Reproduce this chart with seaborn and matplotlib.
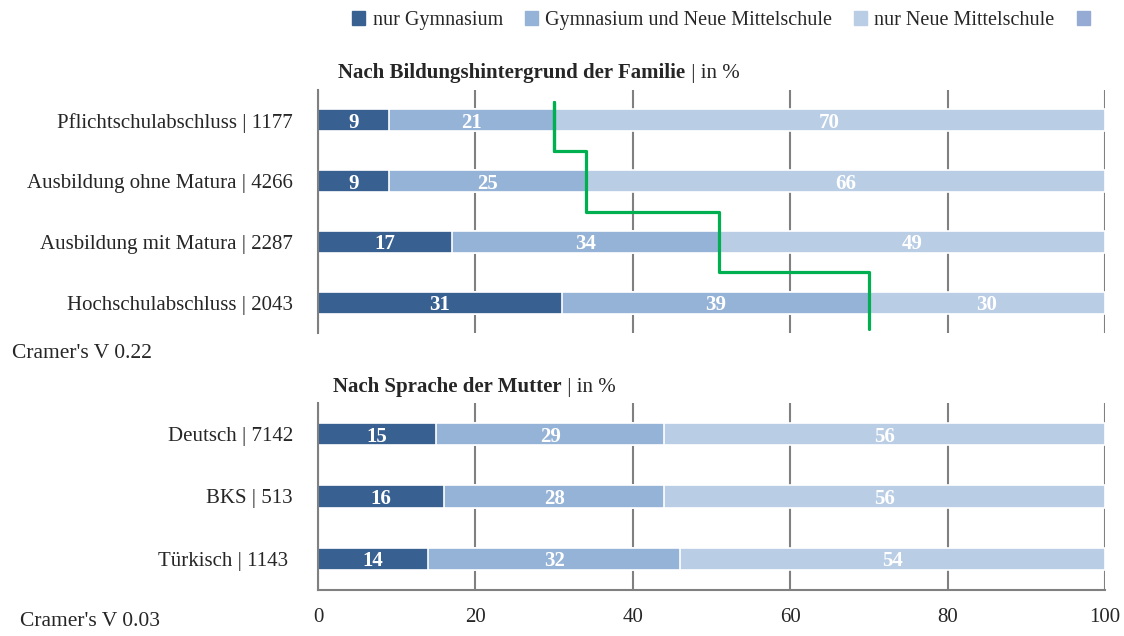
import numpy as np
import pandas as pd
from matplotlib import pyplot as plt
from matplotlib.patches import Patch
import seaborn as sns

series = ["nur Gymnasium", "Gymnasium und Neue Mittelschule", "nur Neue Mittelschule"]
colors = ["#386192", "#95b3d7", "#b9cde5"]
extra_color = "#95abd3"

bildung_labels = ["Pflichtschulabschluss | 1177", "Ausbildung ohne Matura | 4266",
                  "Ausbildung mit Matura | 2287", "Hochschulabschluss | 2043"]
bildung_gym = [9, 9, 17, 31]
bildung_both = [21, 25, 34, 39]
bildung_nms = [70, 66, 49, 30]

sprache_labels = ["Deutsch | 7142", "BKS | 513", "Türkisch | 1143 "]
sprache_gym = [15, 16, 14]
sprache_both = [29, 28, 32]
sprache_nms = [56, 56, 54]

cramer_bildung = "Cramer's V 0.22"
cramer_sprache = "Cramer's V 0.03"
xticks = [0, 20, 40, 60, 80, 100]

GRAY = "#808080"
FS = 15


def stacked_panel(ax, labels, gym, both, nms, title_bold, title_x):
    df = pd.DataFrame({"label": labels, "gym": gym, "both": both, "nms": nms})
    df["c1"] = df["gym"]
    df["c2"] = df["gym"] + df["both"]
    df["c3"] = df["c2"] + df["nms"]
    # stack by overdrawing cumulative totals
    for col, color in zip(["c3", "c2", "c1"], colors[::-1]):
        sns.barplot(data=df, x=col, y="label", orient="h", color=color, saturation=1,
                    width=0.36, edgecolor="white", linewidth=1.2, errorbar=None, ax=ax)
    for i, row in df.iterrows():
        starts = [0, row["c1"], row["c2"]]
        for s, v in zip(starts, [row["gym"], row["both"], row["nms"]]):
            ax.text(s + v / 2, i, str(v), ha="center", va="center_baseline", color="white",
                    fontsize=15, fontweight="bold")
    n = len(labels)
    ax.set_xlim(0, 100)
    ax.set_ylim(n - 0.5, -0.5)
    ax.set_xlabel("")
    ax.set_ylabel("")
    ax.set_axisbelow(True)
    ax.xaxis.grid(True, color=GRAY, linewidth=1.5)
    ax.yaxis.grid(False)
    ax.set_xticks(xticks)
    ax.set_yticks(np.arange(-0.5, n), minor=True)
    ax.tick_params(axis="y", which="major", length=0, pad=18, labelsize=FS)
    ax.tick_params(axis="y", which="minor", length=7, width=1.5, color=GRAY, direction="out")
    for side in ["top", "right"]:
        ax.spines[side].set_visible(False)
    ax.spines["left"].set_color(GRAY)
    ax.spines["left"].set_linewidth(1.5)
    t = ax.text(title_x, 1.03, title_bold, transform=ax.transAxes, fontsize=15,
                fontweight="bold", ha="left", va="bottom")
    ax.annotate(" | in %", xy=(1, 0), xycoords=t, ha="left", va="bottom", fontsize=15)
    return df


sns.set_style("white")
plt.rcParams["font.family"] = ["Liberation Serif", "DejaVu Serif"]

fig = plt.figure(figsize=(11.24, 6.36), dpi=100)
ax_top = fig.add_axes([318 / 1124, 1 - 333 / 636, 787 / 1124, 243 / 636])
ax_bot = fig.add_axes([318 / 1124, 1 - 590 / 636, 787 / 1124, 187 / 636])

df_top = stacked_panel(ax_top, bildung_labels, bildung_gym, bildung_both, bildung_nms,
                       "Nach Bildungshintergrund der Familie", 0.026)
ax_top.spines["bottom"].set_visible(False)
ax_top.tick_params(axis="x", length=0, labelbottom=False)

# green step line along the cumulative "Gymnasium" share
edges = df_top["c2"].tolist()
n = len(edges)
ys = [-0.3] + [i + 0.5 for i in range(n - 1)] + [n - 1 + 0.44]
xs = edges + [edges[-1]]
ax_top.step(xs, ys, where="pre", color="#00b050", linewidth=2.3, zorder=5)
ax_top.plot([edges[0], edges[0]], [ys[0], ys[1]], color="#00b050", linewidth=2.3, zorder=5)

stacked_panel(ax_bot, sprache_labels, sprache_gym, sprache_both, sprache_nms,
              "Nach Sprache der Mutter", 0.019)
ax_bot.spines["bottom"].set_color(GRAY)
ax_bot.spines["bottom"].set_linewidth(1.5)
ax_bot.tick_params(axis="x", length=6, width=1.5, color=GRAY, direction="inout",
                   labelsize=FS, pad=10)

fig.text(12 / 1124, 1 - 353 / 636, cramer_bildung, fontsize=15.5, va="center", ha="left")
fig.text(20 / 1124, 1 - 621 / 636, cramer_sprache, fontsize=15.5, va="center", ha="left")

handles = [Patch(color=c, label=s) for c, s in zip(colors, series)]
handles.append(Patch(color=extra_color, label=""))
fig.legend(handles=handles, loc="upper right", bbox_to_anchor=(1111 / 1124, 1.005), ncol=4,
           frameon=False, fontsize=14.5, handlelength=0.65, handleheight=0.65,
           handletextpad=0.35, columnspacing=1.1, borderpad=0.2)

plt.savefig("out.png", dpi=100)
